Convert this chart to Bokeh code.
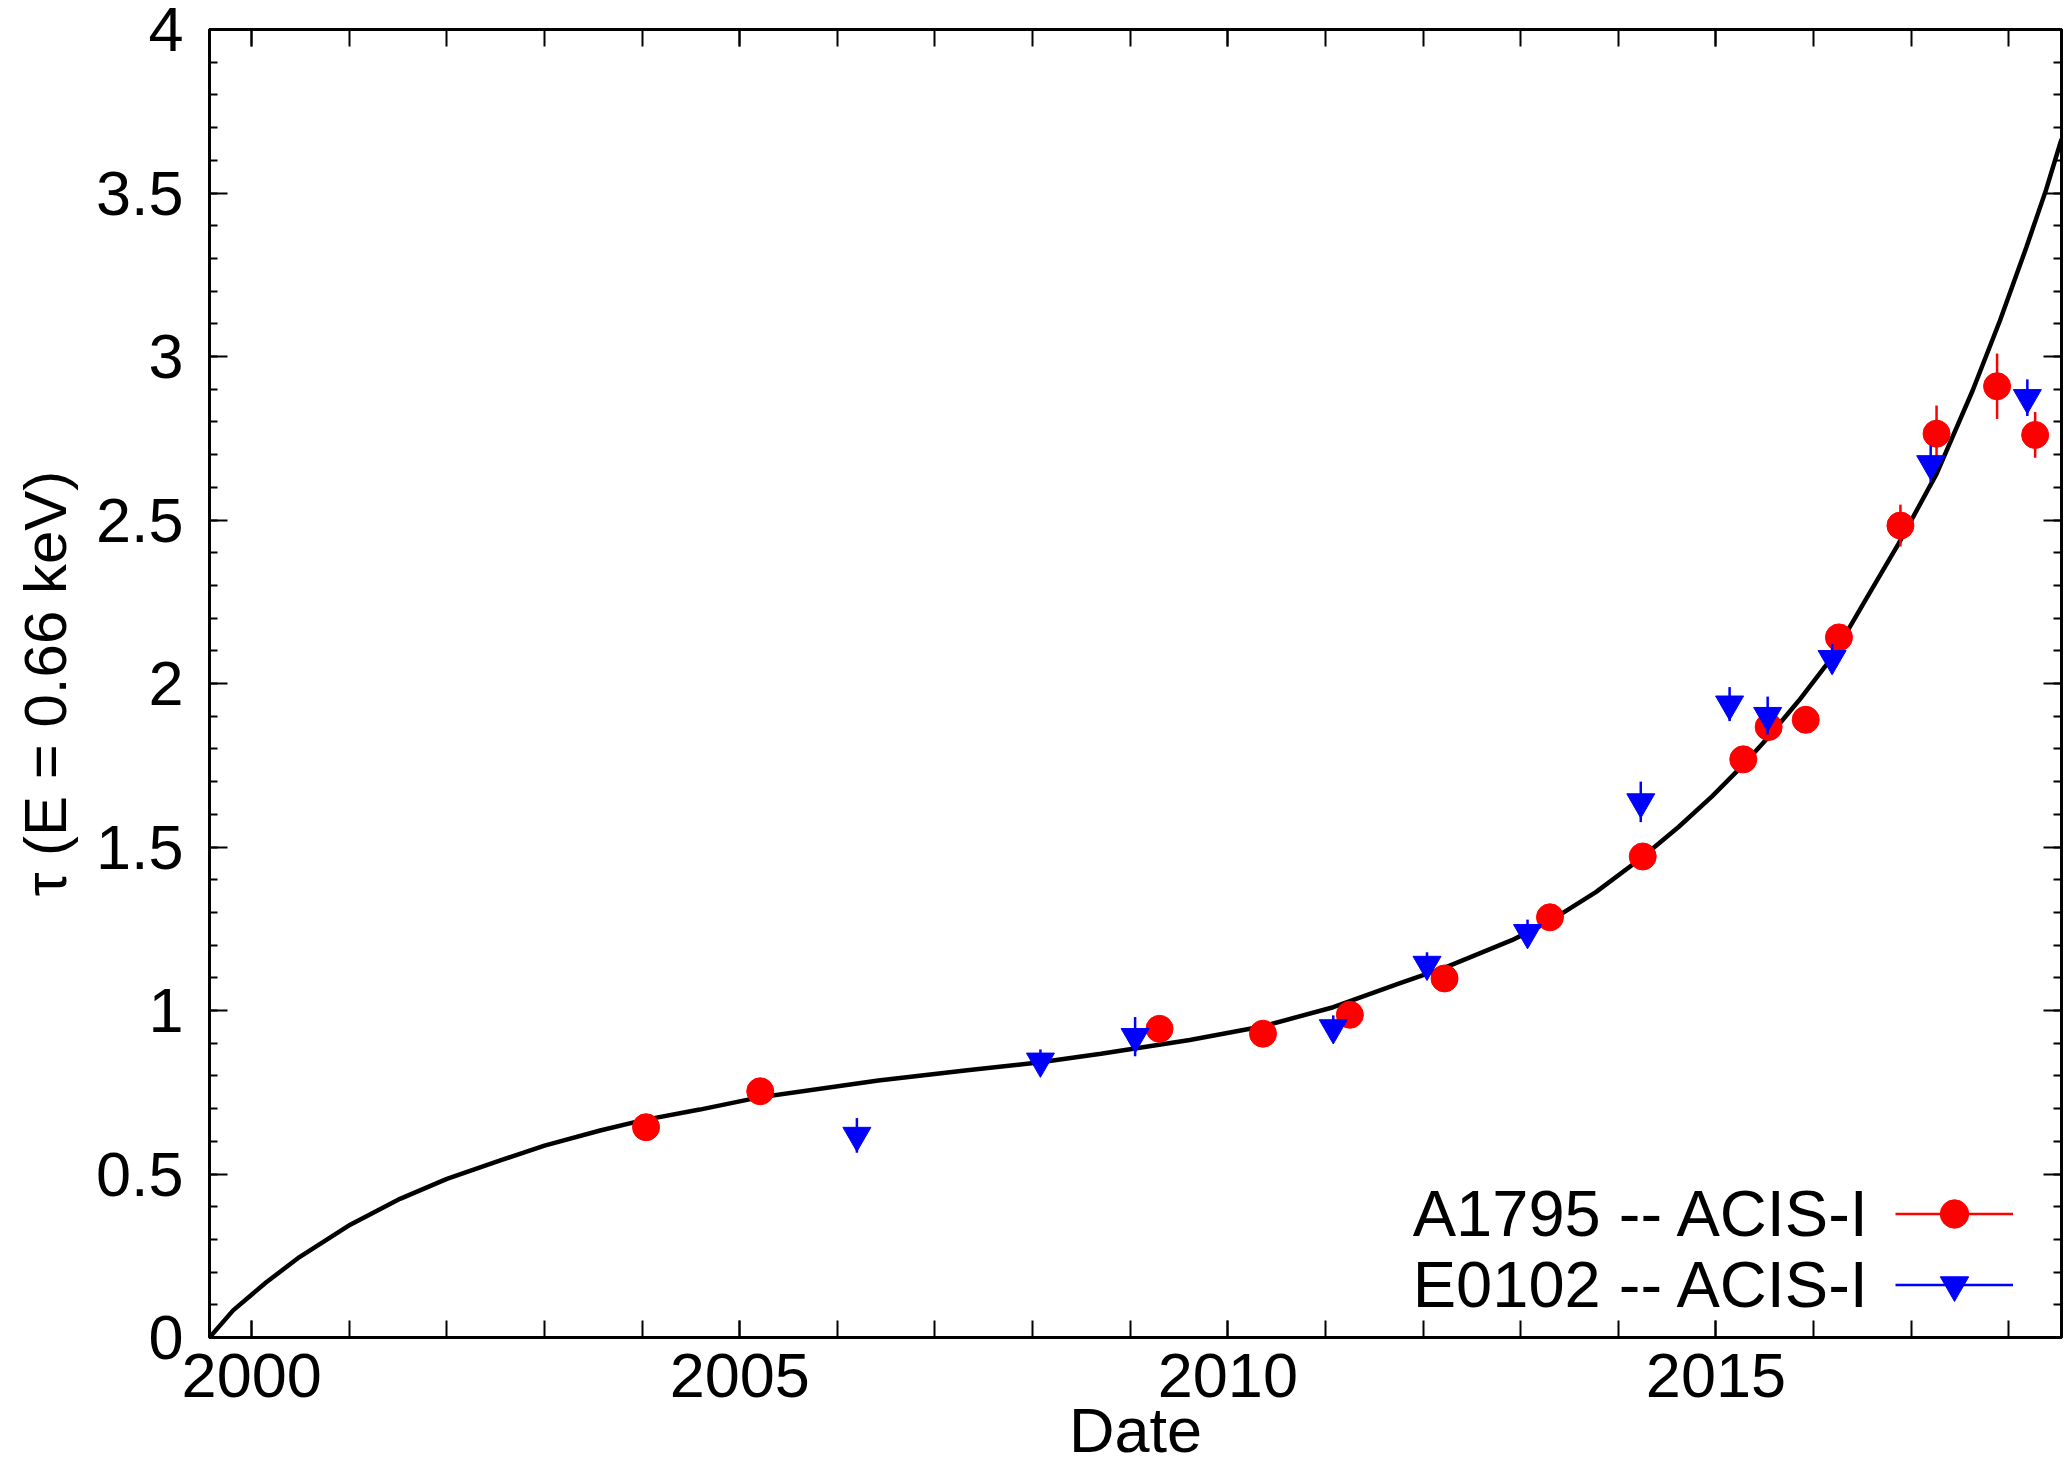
from bokeh.plotting import figure
from bokeh.models import (ColumnDataSource, Range1d, LinearAxis, FixedTicker,
                          CustomJSTickFormatter, Legend, LegendItem, Label, AllLabels)
from bokeh.embed import file_html
from bokeh.resources import INLINE

FONT = "Liberation Sans"
FONT_SIZE = "63px"

# Contamination model: optical depth at 0.66 keV versus date
fit_date = [1999.568, 1999.81, 2000.15, 2000.49, 2001.01, 2001.52, 2002.00, 2002.54,
            2003.00, 2003.57, 2004.00, 2004.59, 2005.21, 2006.42, 2007.33, 2008.08,
            2008.70, 2009.61, 2010.35, 2011.08, 2011.75, 2012.23, 2012.91, 2013.29,
            2013.77, 2014.23, 2014.62, 2014.96, 2015.27, 2015.52, 2015.85, 2016.19,
            2016.53, 2016.87, 2017.26, 2017.63, 2017.91, 2018.18, 2018.38, 2018.54]
fit_tau = [0.0, 0.083, 0.169, 0.246, 0.345, 0.424, 0.485, 0.541,
           0.587, 0.633, 0.664, 0.697, 0.735, 0.786, 0.817, 0.842,
           0.868, 0.910, 0.951, 1.010, 1.082, 1.132, 1.215, 1.272,
           1.362, 1.465, 1.562, 1.655, 1.748, 1.830, 1.948, 2.080,
           2.254, 2.427, 2.641, 2.896, 3.110, 3.334, 3.508, 3.665]

# A1795 -- ACIS-I
a1795_date = [2004.04, 2005.21, 2009.30, 2010.36, 2011.25, 2012.22, 2013.30, 2014.25,
              2015.28, 2015.54, 2015.92, 2016.26, 2016.89, 2017.26, 2017.88, 2018.27]
a1795_tau = [0.643, 0.753, 0.944, 0.929, 0.987, 1.098, 1.285, 1.471,
             1.768, 1.867, 1.889, 2.141, 2.483, 2.764, 2.909, 2.760]
a1795_err = [0.02, 0.02, 0.02, 0.02, 0.025, 0.025, 0.025, 0.03,
             0.03, 0.03, 0.03, 0.035, 0.064, 0.086, 0.100, 0.070]

# E0102 -- ACIS-I
e0102_date = [2006.20, 2008.08, 2009.05, 2011.08, 2012.04, 2013.07, 2014.23, 2015.14,
              2015.53, 2016.19, 2017.20, 2018.19]
e0102_tau = [0.618, 0.845, 0.920, 0.947, 1.141, 1.238, 1.638, 1.937,
             1.902, 2.076, 2.672, 2.874]
e0102_err = [0.053, 0.036, 0.060, 0.038, 0.037, 0.040, 0.062, 0.052,
             0.058, 0.045, 0.056, 0.056]

x_major = [2000, 2005, 2010, 2015]
x_minor = list(range(2000, 2019))
y_major = [0, 0.5, 1, 1.5, 2, 2.5, 3, 3.5, 4]
y_minor = [round(0.1 * i, 1) for i in range(41)]


def with_bars(date, tau, err):
    return ColumnDataSource(dict(
        date=date, tau=tau,
        lo=[t - e for t, e in zip(tau, err)],
        hi=[t + e for t, e in zip(tau, err)],
    ))


src_a = with_bars(a1795_date, a1795_tau, a1795_err)
src_e = with_bars(e0102_date, e0102_tau, e0102_err)

p = figure(width=2064, height=1468,
           x_range=Range1d(1999.568, 2018.54), y_range=Range1d(0, 4),
           output_backend="svg", toolbar_location=None,
           min_border_left=209, min_border_right=3,
           min_border_top=29, min_border_bottom=131,
           background_fill_color="white", border_fill_color="white")
p.xgrid.visible = False
p.ygrid.visible = False
p.outline_line_color = "black"
p.outline_line_width = 3


def style_axis(ax, ticker, major_in, minor_in):
    ax.ticker = ticker
    ax.axis_line_color = "black"
    ax.axis_line_width = 3
    ax.major_tick_in = major_in
    ax.major_tick_out = 0
    ax.minor_tick_in = minor_in
    ax.minor_tick_out = 0
    ax.major_tick_line_color = "black"
    ax.minor_tick_line_color = "black"
    ax.major_tick_line_width = 2
    ax.minor_tick_line_width = 2
    ax.major_label_text_font = FONT
    ax.major_label_text_font_size = FONT_SIZE
    ax.major_label_text_color = "black"
    ax.major_label_policy = AllLabels()
    ax.axis_label_text_font = FONT
    ax.axis_label_text_font_size = FONT_SIZE
    ax.axis_label_text_font_style = "normal"
    ax.axis_label_text_color = "black"


blank = CustomJSTickFormatter(code="return '';")

# bottom axis
xax = p.xaxis[0]
style_axis(xax, FixedTicker(ticks=x_major, minor_ticks=x_minor), 17, 17)
xax.axis_label = "Date"
xax.major_label_standoff = 16
xax.axis_label_standoff = -5

# left axis
yax = p.yaxis[0]
style_axis(yax, FixedTicker(ticks=y_major, minor_ticks=y_minor), 18, 8)
yax.formatter = CustomJSTickFormatter(code="return String(Math.round(tick * 10) / 10);")
yax.axis_label = "\u03c4 (E = 0.66 keV)"
yax.axis_label_text_font_size = "60px"
yax.major_label_standoff = 26
yax.axis_label_standoff = 14

# mirrored axes on top and right, ticks only
top = LinearAxis(formatter=blank)
style_axis(top, FixedTicker(ticks=x_major, minor_ticks=x_minor), 17, 17)
top.major_label_text_font_size = "1px"
top.major_label_standoff = 0
p.add_layout(top, "above")

right = LinearAxis(formatter=blank)
style_axis(right, FixedTicker(ticks=y_major, minor_ticks=y_minor), 18, 8)
right.major_label_text_font_size = "1px"
right.major_label_standoff = 0
p.add_layout(right, "right")

# model curve
p.line(fit_date, fit_tau, line_color="black", line_width=4.5)

# A1795 points with error bars
seg_a = p.segment(x0="date", y0="lo", x1="date", y1="hi", source=src_a,
                  line_color="#ff0000", line_width=2.5)
pts_a = p.scatter("date", "tau", source=src_a, marker="circle", size=27,
                  fill_color="#ff0000", line_color="#ff0000", line_width=1)

# E0102 points with error bars
seg_e = p.segment(x0="date", y0="lo", x1="date", y1="hi", source=src_e,
                  line_color="#0000ff", line_width=2.5)
pts_e = p.scatter("date", "tau", source=src_e, marker="inverted_triangle", size=28,
                  fill_color="#0000ff", line_color="#0000ff", line_width=1)

# key: symbols on the right, names to their left
legend = Legend(items=[LegendItem(label=" ", renderers=[seg_a, pts_a]),
                       LegendItem(label=" ", renderers=[seg_e, pts_e])],
                location=(1686, 17), glyph_width=118, glyph_height=71,
                label_width=0, label_standoff=0, label_height=10,
                label_text_font_size="10px", spacing=0, padding=0, margin=0,
                border_line_alpha=0, background_fill_alpha=0)
p.add_layout(legend)

for name, y in (("A1795 -- ACIS-I", 124), ("E0102 -- ACIS-I", 53)):
    p.add_layout(Label(x=1662, y=y, x_units="screen", y_units="screen", text=name,
                       text_align="right", text_baseline="middle",
                       text_font=FONT, text_font_size="65px", text_color="black"))

with open("out.html", "w") as f:
    f.write(file_html(p, INLINE, title="Optical depth vs date"))
